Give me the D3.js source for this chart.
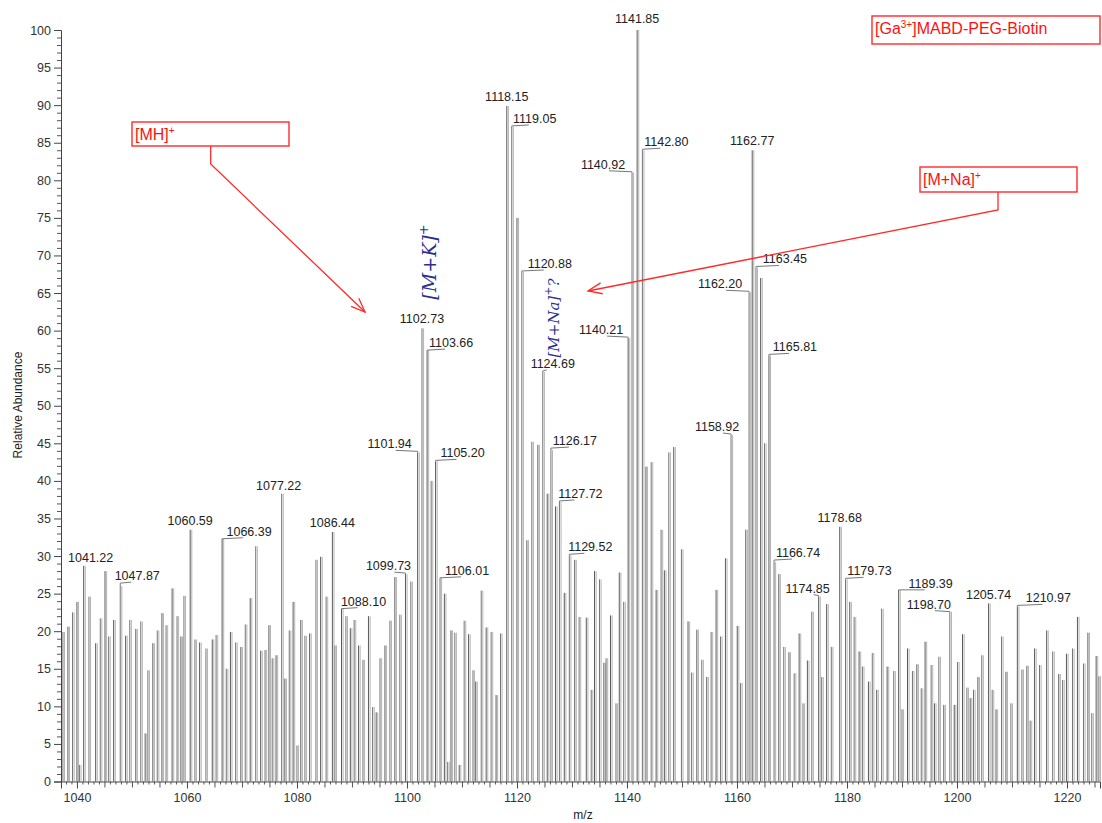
<!DOCTYPE html>
<html>
<head>
<meta charset="utf-8">
<script src="https://cdn.jsdelivr.net/npm/d3@7"></script>
<style>
  body { margin: 0; background: #fff; }
  svg { display: block; }
  text { font-family: "Liberation Sans", Arial, sans-serif; }
</style>
</head>
<body>
<script>
// stick spectrum: m/z and relative abundance
const mz = [
  1037.45, 1038.36, 1039.2, 1040.0, 1040.45, 1041.22, 1042.18, 1043.4, 1044.24, 1045.1,
  1045.76, 1046.67, 1047.87, 1048.85, 1049.6, 1050.7, 1051.6, 1052.4, 1052.9, 1053.8,
  1054.6, 1055.45, 1056.2, 1057.3, 1058.2, 1058.9, 1059.45, 1060.59, 1061.45, 1062.3,
  1063.45, 1064.6, 1065.3, 1066.39, 1067.15, 1067.9, 1068.85, 1069.8, 1070.6, 1071.5,
  1072.5, 1073.4, 1074.2, 1074.9, 1075.5, 1076.2, 1077.22, 1077.8, 1078.6, 1079.3,
  1080.0, 1080.7, 1081.45, 1082.3, 1083.45, 1084.3, 1085.3, 1086.44, 1086.9, 1088.10,
  1088.9, 1089.7, 1090.4, 1091.2, 1092.0, 1093.0, 1093.75, 1094.4, 1095.1, 1096.0,
  1096.9, 1097.8, 1098.7, 1099.73, 1100.7, 1101.94, 1102.73, 1103.66, 1104.4, 1105.20,
  1106.01, 1106.8, 1107.4, 1108.0, 1108.7, 1109.5, 1110.4, 1111.2, 1112.0, 1112.5,
  1113.5, 1114.4, 1115.3, 1116.2, 1117.0, 1118.15, 1119.05, 1120.0, 1120.88, 1121.8,
  1122.7, 1123.8, 1124.69, 1125.5, 1126.17, 1127.0, 1127.72, 1128.6, 1129.52, 1130.5,
  1131.3, 1132.6, 1133.5, 1134.1, 1135.0, 1135.8, 1136.2, 1137.0, 1138.0, 1138.6,
  1139.4, 1140.21, 1140.92, 1141.85, 1142.80, 1143.45, 1144.4, 1145.3, 1146.2, 1146.8,
  1147.6, 1148.5, 1149.9, 1151.1, 1151.75, 1152.7, 1153.6, 1154.5, 1155.3, 1156.2,
  1157.0, 1157.9, 1158.92, 1160.05, 1160.65, 1161.6, 1162.20, 1162.77, 1163.45, 1164.3,
  1165.0, 1165.81, 1166.74, 1167.6, 1168.5, 1169.45, 1170.4, 1171.3, 1172.0, 1172.8,
  1173.6, 1174.85, 1175.4, 1176.3, 1177.15, 1178.68, 1179.73, 1180.5, 1181.3, 1182.2,
  1182.8, 1183.9, 1184.6, 1185.4, 1186.3, 1187.3, 1188.5, 1189.39, 1190.0, 1191.0,
  1191.9, 1192.7, 1193.5, 1194.2, 1195.3, 1195.9, 1196.7, 1197.6, 1198.70, 1199.5,
  1200.1, 1201.0, 1201.8, 1202.4, 1203.0, 1203.8, 1204.5, 1205.74, 1206.4, 1207.1,
  1208.1, 1208.9, 1209.8, 1210.97, 1211.8, 1212.7, 1213.3, 1214.1, 1215.0, 1216.3,
  1217.4, 1218.5, 1219.2, 1219.9, 1221.0, 1221.9, 1223.0, 1223.8, 1224.5, 1225.3,
  1225.8
];
const abundance = [
  19.9, 20.6, 22.5, 23.9, 2.2, 28.7, 24.6, 18.4, 21.7, 28.0,
  19.3, 21.5, 26.0, 19.4, 21.5, 20.3, 21.3, 6.4, 14.8, 18.4,
  20.1, 22.4, 20.8, 25.7, 22.0, 19.3, 24.7, 33.5, 18.9, 18.5,
  17.7, 18.9, 19.5, 32.3, 15.0, 19.9, 18.5, 17.9, 20.9, 24.4,
  31.3, 17.4, 17.5, 20.8, 16.4, 16.8, 38.3, 13.7, 20.1, 23.9,
  4.8, 21.5, 19.4, 19.7, 29.5, 29.9, 24.6, 33.2, 18.1, 23.0,
  22.0, 20.4, 21.5, 18.1, 16.2, 22.0, 9.9, 9.2, 16.4, 18.1,
  21.4, 27.2, 22.2, 27.6, 26.6, 43.8, 60.3, 57.4, 40.0, 42.6,
  27.1, 25.0, 2.6, 20.1, 19.8, 2.2, 21.4, 19.6, 14.8, 13.3,
  25.4, 20.5, 19.9, 11.5, 19.7, 89.9, 87.1, 75.0, 67.8, 32.1,
  45.2, 44.8, 54.5, 38.3, 44.1, 36.6, 37.2, 25.1, 30.1, 29.5,
  21.9, 21.8, 12.2, 28.0, 26.9, 15.8, 16.4, 22.1, 10.4, 27.8,
  23.9, 59.0, 81.0, 100, 84.0, 41.9, 42.5, 25.5, 33.5, 28.1,
  43.8, 44.5, 30.9, 21.3, 14.5, 20.2, 16.2, 13.9, 19.9, 25.5,
  19.3, 29.7, 46.1, 20.7, 13.1, 33.5, 65.1, 84.0, 68.4, 67.0,
  45.0, 56.7, 29.2, 27.6, 17.9, 17.2, 14.4, 19.7, 10.4, 16.1,
  22.6, 24.6, 13.9, 23.6, 17.9, 33.9, 26.9, 23.9, 21.9, 17.3,
  15.3, 13.3, 17.1, 12.2, 23.0, 15.3, 14.7, 25.5, 9.6, 17.7,
  14.7, 15.6, 12.4, 18.6, 15.5, 10.4, 16.6, 10.2, 22.6, 10.2,
  15.9, 19.6, 12.5, 11.1, 12.2, 13.9, 16.8, 23.7, 12.2, 9.6,
  19.3, 14.6, 10.4, 23.3, 14.9, 15.4, 8.1, 17.7, 15.5, 20.1,
  17.3, 14.3, 13.5, 17.0, 17.7, 21.9, 15.7, 19.8, 9.1, 16.7,
  14.0
];

// labelled peaks
const peakLabels = [
  1041.22, 1047.87, 1060.59, 1066.39, 1077.22, 1086.44, 1088.10, 1099.73, 1101.94, 1102.73,
  1103.66, 1105.20, 1106.01, 1118.15, 1119.05, 1120.88, 1124.69, 1126.17, 1127.72, 1129.52,
  1140.21, 1140.92, 1141.85, 1142.80, 1158.92, 1162.20, 1162.77, 1163.45, 1165.81, 1166.74,
  1174.85, 1178.68, 1179.73, 1189.39, 1198.70, 1205.74, 1210.97
];
// label placement (pixels): text centre offset from stick, baseline offset from stick top
const labelDx = [7, 17, 0, 27, -3, 0, 22, -17, -28, 0, 24, 27, 27, 0, 23, 28, 10, 24, 21, 21,
  -27, -29, 0, 24, -14, -29, 0, 29, 26, 24, -11, 0, 24, 32, -21, 0, 31];
const labelDy = [-4, -6, -5, -3, -4, -5, -3, -4, -4, -5, -3, -4, -3, -5, -4, -4, -4, -5, -4, -4,
  -4, -4, -7, -4, -4, -4, -5, -4, -4, -5, -4, -5, -4, -2, -3, -4, -4];

const yTicks = d3.range(0, 101, 5);
const xTicks = [1040, 1060, 1080, 1100, 1120, 1140, 1160, 1180, 1200, 1220];

const w = 1102, h = 823;
const svg = d3.select("body").append("svg").attr("width", w).attr("height", h);

const x = d3.scaleLinear().domain([1037.1, 1226]).range([61, 1100]);
const y = d3.scaleLinear().domain([0, 100]).range([781.5, 30]);

// sticks - the scan shows each stick doubled (dark core + pale ghost)
const sticks = mz.map((m, i) => [m, abundance[i]]);
const gs = svg.append("g");
gs.selectAll("line.ghost")
  .data(sticks)
  .enter()
  .append("line")
  .attr("class", "ghost")
  .attr("x1", d => x(d[0]) + 1.6).attr("x2", d => x(d[0]) + 1.6)
  .attr("y1", y(0)).attr("y2", d => y(d[1]))
  .attr("stroke", "#b4b4b4")
  .attr("stroke-width", 1);
gs.selectAll("line.core")
  .data(sticks)
  .enter()
  .append("line")
  .attr("class", "core")
  .attr("x1", d => x(d[0])).attr("x2", d => x(d[0]))
  .attr("y1", y(0)).attr("y2", d => y(d[1]))
  .attr("stroke", (d, i) => i % 2 ? "#5a5a5a" : "#747474")
  .attr("stroke-width", 1);

// axes
const yAxis = d3.axisLeft(y).tickValues(yTicks).tickSize(7).tickPadding(3);
const gy = svg.append("g").attr("transform", "translate(61,0)").call(yAxis);
gy.selectAll(".tick line").attr("stroke", "#444");
gy.select(".domain").attr("stroke", "#444");
gy.selectAll("text").attr("fill", "#333").style("font-size", "12.5px");
svg.append("g").attr("transform", "translate(61,0)")
  .call(d3.axisLeft(y).tickValues(d3.range(0, 101, 1).filter(v => v % 5)).tickSize(4).tickFormat(""))
  .call(g => g.select(".domain").remove())
  .selectAll("line").attr("stroke", "#555");

const xAxis = d3.axisBottom(x).tickValues(xTicks).tickSize(7).tickPadding(5).tickFormat(d3.format("d"));
const gx = svg.append("g").attr("transform", "translate(0," + y(0) + ")").call(xAxis);
gx.selectAll(".tick line").attr("stroke", "#444");
gx.select(".domain").attr("stroke", "#444");
gx.selectAll("text").attr("fill", "#333").style("font-size", "12.5px");
svg.append("g").attr("transform", "translate(0," + y(0) + ")")
  .call(d3.axisBottom(x).tickValues(d3.range(1038, 1226, 1).filter(v => v % 20)).tickSize(3).tickFormat(""))
  .call(g => g.select(".domain").remove())
  .selectAll("line").attr("stroke", "#555")
  .attr("y2", d => d % 5 ? 3 : 6);

// axis titles
svg.append("text")
  .attr("transform", "translate(22,405) rotate(-90)")
  .style("text-anchor", "middle").style("font-size", "12px").attr("fill", "#222")
  .text("Relative Abundance");
svg.append("text")
  .attr("x", 583).attr("y", 819)
  .style("text-anchor", "middle").style("font-size", "12px").attr("fill", "#222")
  .text("m/z");

// peak labels
const lab = svg.append("g");
peakLabels.forEach((p, i) => {
  const k = mz.indexOf(p);
  const px = x(p), top = y(abundance[k]);
  const tx = px + labelDx[i], base = top + labelDy[i];
  if (Math.abs(labelDx[i]) > 8) {
    const ly = base + 3;
    const lx = tx - Math.sign(labelDx[i]) * 6;
    lab.append("path")
      .attr("d", "M" + px + "," + top + "L" + px + "," + Math.min(top, ly) + "L" + lx + "," + (ly - 1))
      .attr("fill", "none").attr("stroke", "#777").attr("stroke-width", 1);
  }
  lab.append("text")
    .attr("x", tx).attr("y", base)
    .style("text-anchor", "middle").style("font-size", "12.5px").attr("fill", "#222")
    .text(p.toFixed(2));
});

// red annotation boxes
const red = "#ff2a2a";
function box(x0, y0, x1, y1, main, sup, rest) {
  svg.append("rect").attr("x", x0).attr("y", y0).attr("width", x1 - x0).attr("height", y1 - y0)
    .attr("fill", "none").attr("stroke", red).attr("stroke-width", 1.4);
  const t = svg.append("text").attr("x", x0 + 3).attr("y", y0 + 18)
    .style("font-size", "16px").attr("fill", "#ff1010");
  t.append("tspan").text(main);
  t.append("tspan").attr("dy", -6).style("font-size", "10px").text(sup);
  if (rest) t.append("tspan").attr("dy", 6).text(rest);
}
box(872, 16, 1100, 44, "[Ga", "3+", "]MABD-PEG-Biotin");
box(132, 122, 289, 146, "[MH]", "+");
box(920, 167, 1077, 192, "[M+Na]", "+");

function arrow(pts) {
  svg.append("path").attr("d", d3.line()(pts))
    .attr("fill", "none").attr("stroke", red).attr("stroke-width", 1.3);
  const a = pts[pts.length - 2], b = pts[pts.length - 1];
  const ang = Math.atan2(b[1] - a[1], b[0] - a[0]);
  const L = 15, s = 0.38;
  const head = [
    [b[0] - L * Math.cos(ang - s), b[1] - L * Math.sin(ang - s)], b,
    [b[0] - L * Math.cos(ang + s), b[1] - L * Math.sin(ang + s)]
  ];
  svg.append("path").attr("d", d3.line()(head))
    .attr("fill", "none").attr("stroke", red).attr("stroke-width", 1.3);
}
arrow([[210.7, 146], [210.7, 164], [365, 312]]);
arrow([[998, 192], [998, 210], [588, 291]]);

// handwritten notes (blue ink)
const ink = "#2b2f8f";
const n1 = svg.append("text").attr("transform", "translate(436,262) rotate(-90)")
  .style("text-anchor", "middle").style("font-family", "'DejaVu Serif', serif")
  .style("font-style", "italic").style("font-size", "19px").attr("fill", ink);
n1.append("tspan").text("[M+K]");
n1.append("tspan").attr("dy", -8).style("font-size", "13px").text("+");
const n2 = svg.append("text").attr("transform", "translate(559,318) rotate(-90)")
  .style("text-anchor", "middle").style("font-family", "'DejaVu Serif', serif")
  .style("font-style", "italic").style("font-size", "15px").attr("fill", ink);
n2.append("tspan").text("[M+Na]");
n2.append("tspan").attr("dy", -7).style("font-size", "11px").text("+");
n2.append("tspan").attr("dy", 7).text("?");
</script>
</body>
</html>
